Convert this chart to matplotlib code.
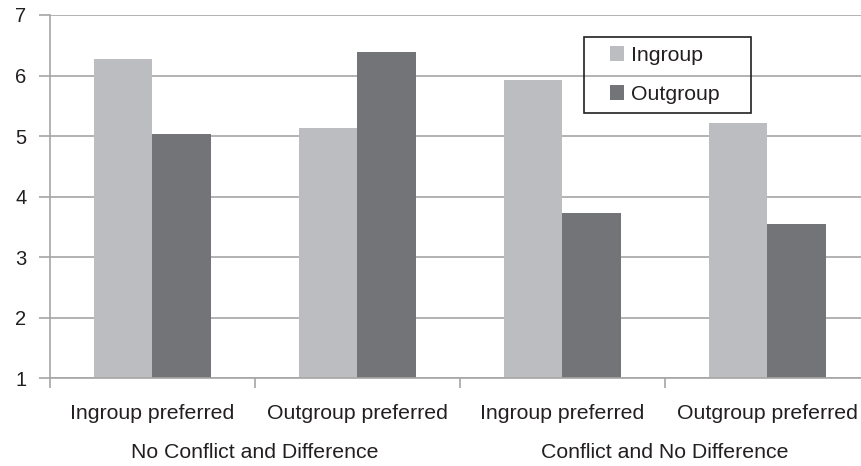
import numpy as np
import matplotlib.pyplot as plt
from matplotlib.patches import Rectangle

plt.rcParams['font.family'] = ['Liberation Sans', 'DejaVu Sans']

conditions = ['Ingroup preferred', 'Outgroup preferred', 'Ingroup preferred', 'Outgroup preferred']
groups = ['No Conflict and Difference', 'Conflict and No Difference']
ingroup = [6.28, 5.13, 5.92, 5.22]
outgroup = [5.04, 6.39, 3.73, 3.55]

light = '#bcbdc1'
dark = '#737477'
grid_c = '#a6a6a6'
text_c = '#231f20'
fs = 15.3

W, H = 862, 466
fig = plt.figure(figsize=(W / 100, H / 100), dpi=100)
ax = fig.add_axes([50 / W, 87.7 / H, 820 / W, 363.3 / H])

x = np.arange(len(conditions))
w = 1 / 3.5
ax.bar(x - w / 2, np.array(ingroup) - 1, w, bottom=1, color=light, label='Ingroup', zorder=2)
ax.bar(x + w / 2, np.array(outgroup) - 1, w, bottom=1, color=dark, label='Outgroup', zorder=2)

ax.set_xlim(-0.5, len(conditions) - 0.5)
ax.set_ylim(1, 7)
ax.set_yticks(range(1, 8))
ax.yaxis.grid(True, color=grid_c, linewidth=1.2, zorder=0)
ax.set_axisbelow(True)

# category boundaries as major ticks, labels on minor ticks
ax.set_xticks(np.arange(-0.5, len(conditions), 1.0))
ax.set_xticklabels([])
ax.set_xticks(x, minor=True)
ax.set_xticklabels(conditions, minor=True)
ax.tick_params(axis='x', which='major', length=7, color=grid_c, width=1.2)
ax.tick_params(axis='x', which='minor', length=0, pad=18.5, labelsize=fs, labelcolor=text_c)
ax.tick_params(axis='y', length=8, color=grid_c, width=1.2, pad=9, labelsize=14.5, labelcolor=text_c)

for s in ['top', 'right']:
    ax.spines[s].set_visible(False)
for s in ['left', 'bottom']:
    ax.spines[s].set_color(grid_c)
    ax.spines[s].set_linewidth(1.2)

for i, g in enumerate(groups):
    ax.text(0.5 + 2 * i, -0.205, g, transform=ax.get_xaxis_transform(),
            ha='center', va='center', fontsize=fs, color=text_c)

# legend box (pixel layout, top-left origin)
bx0, by0, bx1, by1 = 583.7, 37.3, 750.7, 112.7
fig.patches.append(Rectangle((bx0 / W, 1 - by1 / H), (bx1 - bx0) / W, (by1 - by0) / H,
                             transform=fig.transFigure, fill=False,
                             edgecolor=text_c, linewidth=1.2, zorder=5))
leg = ax.legend(loc='center left', bbox_to_anchor=(610 / W, 1 - (by0 + by1) / 2 / H),
                bbox_transform=fig.transFigure, frameon=False, fontsize=fs,
                handlelength=0.68, handleheight=0.68, handletextpad=0.3,
                borderpad=0, labelspacing=0.95, borderaxespad=0)
for t in leg.get_texts():
    t.set_color(text_c)

fig.savefig('out.png', dpi=100)
